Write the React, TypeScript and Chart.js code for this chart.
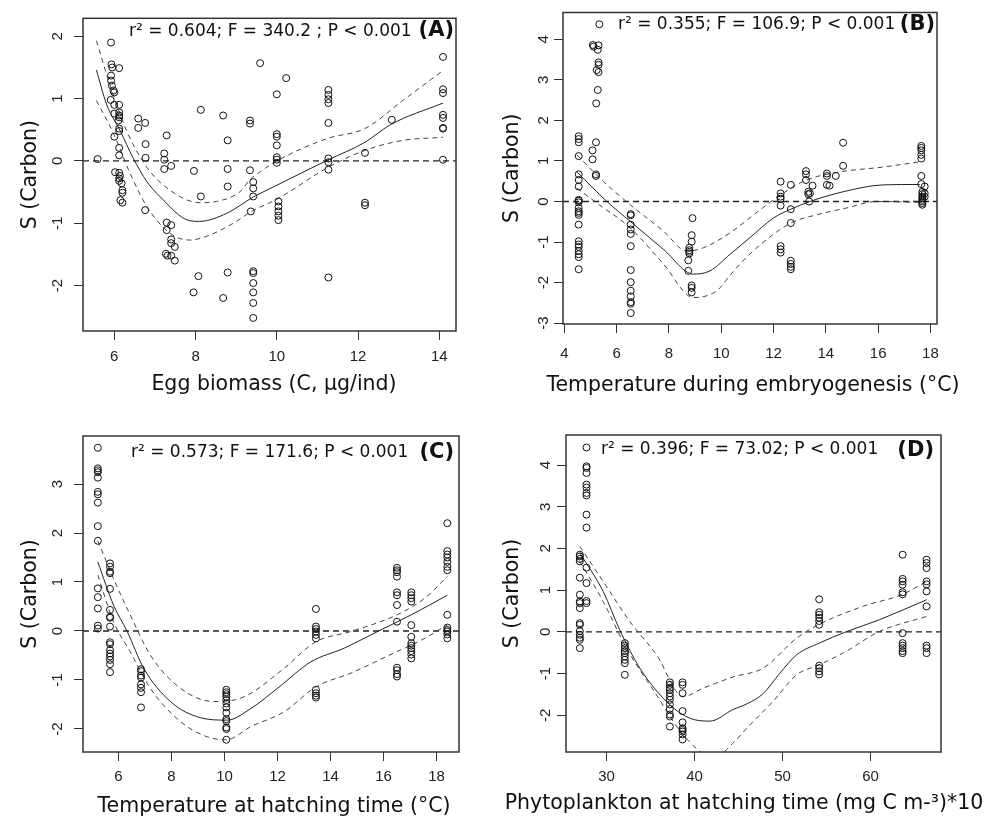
import React, { useEffect, useRef } from "react";
import { Chart, registerables } from "chart.js";
Chart.register(...registerables);

type P = [number, number];

// ---------------- Panel A ----------------
const aPoints: P[] = [
  [5.59, 0.03], [5.92, 1.9], [5.93, 1.55], [5.95, 1.5], [6.12, 1.49], [5.92, 1.37], [5.92, 1.29], [5.94, 1.21],
  [5.98, 1.13], [6.0, 1.1], [5.91, 0.98], [6.0, 0.9], [6.12, 0.9], [6.0, 0.76], [6.12, 0.78], [6.12, 0.73],
  [6.12, 0.7], [6.1, 0.65], [6.12, 0.52], [6.12, 0.48], [6.0, 0.39], [6.12, 0.21], [6.12, 0.09], [6.02, -0.18],
  [6.12, -0.19], [6.14, -0.24], [6.12, -0.28], [6.12, -0.32], [6.18, -0.36], [6.2, -0.47], [6.2, -0.51], [6.15, -0.63],
  [6.2, -0.67], [6.59, 0.68], [6.59, 0.53], [6.76, 0.61], [6.77, 0.27], [6.77, 0.05], [6.76, -0.79], [7.23, 0.12],
  [7.23, 0.02], [7.23, -0.13], [7.4, -0.08], [7.29, 0.41], [7.29, -0.99], [7.4, -1.03], [7.29, -1.11], [7.4, -1.26],
  [7.4, -1.32], [7.49, -1.38], [7.27, -1.49], [7.31, -1.52], [7.4, -1.52], [7.49, -1.6], [7.96, -0.16], [8.13, 0.82],
  [8.13, -0.57], [8.07, -1.85], [7.95, -2.11], [8.68, 0.73], [8.79, 0.33], [8.79, -0.13], [8.79, -0.41], [8.79, -1.79],
  [8.68, -2.2], [9.34, 0.65], [9.34, 0.6], [9.34, -0.15], [9.42, -0.34], [9.42, -0.44], [9.42, -0.57], [9.36, -0.81],
  [9.42, -1.77], [9.42, -1.8], [9.42, -1.96], [9.42, -2.11], [9.42, -2.28], [9.42, -2.52], [9.59, 1.57], [10.23, 1.33],
  [10.0, 1.07], [10.0, 0.43], [10.0, 0.39], [10.0, 0.25], [10.0, 0.06], [10.0, 0.02], [10.0, -0.03], [10.04, -0.65],
  [10.04, -0.73], [10.04, -0.81], [10.04, -0.88], [10.04, -0.95], [11.27, 1.14], [11.27, 1.06], [11.27, 0.99], [11.27, 0.93],
  [11.27, 0.61], [11.27, 0.04], [11.27, -0.02], [11.27, -0.14], [11.27, -1.87], [12.17, 0.13], [12.17, -0.67], [12.17, -0.71],
  [12.83, 0.66], [14.09, 1.67], [14.09, 1.15], [14.09, 1.09], [14.09, 0.74], [14.09, 0.69], [14.09, 0.53], [14.09, 0.52],
  [14.09, 0.02],
];
const aFit: P[] = [
  [5.56, 1.46], [5.81, 0.91], [6.14, 0.49], [6.47, 0.04], [6.8, -0.33], [7.12, -0.57], [7.86, -0.96], [8.1, -0.97],
  [8.77, -0.84], [9.42, -0.58], [10.0, -0.39], [11.24, 0.01], [12.17, 0.3], [12.79, 0.58], [14.09, 0.93],
];
const aUpper: P[] = [
  [5.56, 1.93], [5.89, 1.23], [6.3, 0.49], [6.8, -0.1], [7.37, -0.47], [8.11, -0.67], [8.52, -0.65], [9.1, -0.49],
  [9.34, -0.3], [9.6, -0.17], [10.0, 0.0], [11.24, 0.36], [12.17, 0.52], [13.1, 0.97], [14.09, 1.45],
];
const aLower: P[] = [
  [5.56, 0.97], [5.98, 0.44], [6.39, -0.2], [6.8, -0.73], [7.37, -1.16], [7.86, -1.27], [8.27, -1.21], [8.93, -1.0],
  [9.38, -0.81], [10.04, -0.6], [11.27, -0.1], [12.17, 0.17], [13.1, 0.33], [14.09, 0.38],
];
const aXTicks = [6, 8, 10, 12, 14];
const aYTicks = [-2, -1, 0, 1, 2];
const aXRange = [5.23, 14.41];
const aYRange = [-2.73, 2.29];

// ---------------- Panel B ----------------
const bPoints: P[] = [
  [4.55, 1.61], [4.55, 1.54], [4.55, 1.46], [4.55, 1.12], [4.55, 0.67], [4.55, 0.53], [4.55, 0.37], [4.55, 0.04],
  [4.55, 0.02], [4.55, -0.02], [4.55, -0.16], [4.55, -0.24], [4.55, -0.28], [4.55, -0.33], [4.55, -0.57], [4.55, -0.98],
  [4.55, -1.06], [4.55, -1.12], [4.55, -1.22], [4.55, -1.3], [4.55, -1.37], [4.55, -1.67],
  [5.34, 4.37], [5.09, 3.86], [5.12, 3.82], [5.31, 3.85], [5.28, 3.74], [5.31, 3.43], [5.31, 3.37], [5.24, 3.24],
  [5.31, 3.19], [5.28, 2.75], [5.22, 2.42], [5.21, 1.46], [5.08, 1.26], [5.08, 1.04], [5.21, 0.67], [5.21, 0.63],
  [6.54, -0.31], [6.54, -0.34], [6.54, -0.57], [6.54, -0.69], [6.54, -0.8], [6.54, -1.1], [6.54, -1.69], [6.54, -1.99],
  [6.54, -2.2], [6.54, -2.34], [6.54, -2.48], [6.54, -2.52], [6.54, -2.75],
  [8.9, -0.41], [8.87, -0.83], [8.87, -0.99], [8.78, -1.14], [8.78, -1.2], [8.78, -1.24], [8.78, -1.28], [8.74, -1.45],
  [8.74, -1.71], [8.87, -2.07], [8.87, -2.13], [8.87, -2.24],
  [12.27, 0.49], [12.27, 0.2], [12.27, 0.12], [12.27, 0.07], [12.27, -0.1], [12.27, -1.1], [12.27, -1.18], [12.27, -1.26],
  [12.66, 0.41], [12.66, -0.19], [12.66, -0.53], [12.66, -1.46], [12.66, -1.54], [12.66, -1.61], [12.66, -1.67],
  [13.24, 0.75], [13.24, 0.67], [13.24, 0.53], [13.49, 0.39], [13.33, 0.24], [13.39, 0.2], [13.33, 0.18], [13.36, 0.0],
  [14.04, 0.69], [14.04, 0.63], [14.04, 0.41], [14.14, 0.39], [14.38, 0.63], [14.66, 1.45], [14.66, 0.88],
  [17.65, 1.37], [17.65, 1.32], [17.65, 1.26], [17.65, 1.15], [17.65, 1.06], [17.65, 0.63], [17.65, 0.43], [17.78, 0.37],
  [17.69, 0.24], [17.69, 0.18], [17.69, 0.12], [17.69, 0.08], [17.69, 0.04], [17.69, 0.0], [17.69, -0.04], [17.69, -0.08],
  [17.78, 0.2], [17.78, 0.12],
];
const bFit: P[] = [
  [4.48, 0.73], [5.63, 0.0], [6.52, -0.49], [7.79, -1.18], [8.94, -1.79], [9.57, -1.71], [10.34, -1.3], [11.1, -0.89],
  [11.99, -0.41], [12.66, -0.19], [13.39, 0.0], [14.66, 0.24], [16.19, 0.41], [17.59, 0.42],
];
const bUpper: P[] = [
  [4.48, 1.15], [5.5, 0.49], [6.52, -0.08], [7.79, -0.73], [8.68, -1.22], [9.32, -1.14], [10.34, -0.77], [11.3, -0.3],
  [12.26, 0.16], [13.26, 0.53], [14.54, 0.73], [16.19, 0.85], [17.59, 0.98],
];
const bLower: P[] = [
  [4.48, 0.33], [5.25, -0.04], [6.52, -0.65], [7.79, -1.54], [8.94, -2.37], [9.83, -2.2], [10.34, -1.82], [10.72, -1.54],
  [11.36, -1.14], [12.66, -0.53], [13.64, -0.33], [14.79, -0.16], [15.93, 0.0], [17.59, -0.02],
];
const bXTicks = [4, 6, 8, 10, 12, 14, 16, 18];
const bYTicks = [-3, -2, -1, 0, 1, 2, 3, 4];
const bXRange = [3.95, 18.25];
const bYRange = [-3.02, 4.66];

// ---------------- Panel C ----------------
const cPoints: P[] = [
  [5.22, 3.74], [5.22, 3.32], [5.22, 3.28], [5.22, 3.24], [5.22, 3.13], [5.22, 2.84], [5.22, 2.79], [5.22, 2.62],
  [5.22, 2.14], [5.22, 1.84], [5.22, 0.87], [5.22, 0.69], [5.22, 0.46], [5.22, 0.11], [5.22, 0.05],
  [5.68, 1.38], [5.68, 1.31], [5.68, 1.21], [5.68, 1.18], [5.68, 0.86], [5.68, 0.43], [5.68, 0.29], [5.68, 0.27],
  [5.68, 0.09], [5.68, -0.23], [5.68, -0.27], [5.68, -0.39], [5.68, -0.46], [5.68, -0.52], [5.68, -0.59], [5.68, -0.68],
  [5.68, -0.84],
  [6.85, -0.78], [6.85, -0.82], [6.85, -0.91], [6.85, -0.95], [6.85, -1.09], [6.85, -1.16], [6.85, -1.25], [6.85, -1.56],
  [10.07, -1.2], [10.07, -1.25], [10.07, -1.29], [10.07, -1.34], [10.07, -1.41], [10.07, -1.48], [10.07, -1.56],
  [10.07, -1.67], [10.07, -1.8], [10.07, -1.84], [10.07, -1.97], [10.07, -2.0], [10.07, -2.22],
  [13.45, 0.45], [13.45, 0.09], [13.45, 0.04], [13.45, -0.01], [13.45, -0.08], [13.45, -0.15], [13.45, -1.2],
  [13.45, -1.27], [13.45, -1.32], [13.45, -1.36],
  [16.51, 1.29], [16.51, 1.24], [16.51, 1.2], [16.51, 1.11], [16.51, 0.79], [16.51, 0.73], [16.51, 0.53], [16.51, 0.19],
  [16.51, -0.75], [16.51, -0.8], [16.51, -0.88], [16.51, -0.93],
  [17.05, 0.79], [17.05, 0.73], [17.05, 0.67], [17.05, 0.6], [17.05, 0.12], [17.05, -0.12], [17.05, -0.25], [17.05, -0.3],
  [17.05, -0.35], [17.05, -0.41], [17.05, -0.48], [17.05, -0.56],
  [18.41, 2.2], [18.41, 1.63], [18.41, 1.56], [18.41, 1.5], [18.41, 1.41], [18.41, 1.31], [18.41, 1.24], [18.41, 0.33],
  [18.41, 0.07], [18.41, 0.02], [18.41, -0.01], [18.41, -0.07], [18.41, -0.15],
];
const cFit: P[] = [
  [5.22, 1.41], [5.81, 0.53], [6.32, 0.0], [6.95, -0.76], [7.96, -1.44], [9.09, -1.77], [10.1, -1.82], [11.0, -1.58],
  [12.0, -1.17], [13.26, -0.63], [14.52, -0.35], [15.78, -0.01], [17.05, 0.33], [18.41, 0.73],
];
const cUpper: P[] = [
  [5.22, 1.84], [5.81, 1.07], [6.44, 0.33], [7.2, -0.49], [8.34, -1.17], [9.6, -1.44], [10.36, -1.41], [11.0, -1.27],
  [12.25, -0.76], [13.45, -0.22], [14.77, -0.01], [16.51, 0.33], [17.56, 0.67], [18.41, 1.11],
];
const cLower: P[] = [
  [5.22, 1.14], [5.81, 0.19], [6.44, -0.42], [7.2, -1.17], [8.34, -1.85], [9.35, -2.16], [10.07, -2.22], [11.0, -1.95],
  [12.25, -1.65], [13.45, -1.14], [14.77, -0.86], [16.51, -0.42], [17.31, -0.22], [18.41, 0.12],
];
const cXTicks = [6, 8, 10, 12, 14, 16, 18];
const cYTicks = [-2, -1, 0, 1, 2, 3];
const cXRange = [4.66, 18.85];
const cYRange = [-2.47, 3.98];

// ---------------- Panel D ----------------
const dPoints: P[] = [
  [26.97, 1.85], [26.97, 1.81], [26.97, 1.75], [26.97, 1.69], [26.97, 1.3], [26.97, 0.89], [26.97, 0.73], [26.97, 0.69],
  [26.97, 0.57], [26.97, 0.21], [26.97, 0.17], [26.97, 0.02], [26.97, -0.07], [26.97, -0.14], [26.97, -0.19], [26.97, -0.39],
  [27.73, 4.42], [27.73, 3.97], [27.73, 3.93], [27.73, 3.81], [27.73, 3.53], [27.73, 3.46], [27.73, 3.33], [27.73, 3.27],
  [27.73, 2.81], [27.73, 2.5], [27.73, 1.54], [27.73, 1.17], [27.73, 0.74], [27.73, 0.69],
  [32.08, -0.27], [32.08, -0.33], [32.08, -0.39], [32.08, -0.46], [32.08, -0.51], [32.08, -0.59], [32.08, -0.67],
  [32.08, -0.75], [32.08, -1.03],
  [37.2, -1.21], [37.2, -1.27], [37.2, -1.34], [37.2, -1.39], [37.2, -1.47], [37.2, -1.55], [37.2, -1.63], [37.2, -1.74],
  [37.2, -1.85], [37.2, -1.98], [37.2, -2.03], [37.2, -2.27],
  [38.64, -1.21], [38.64, -1.27], [38.64, -1.47], [38.64, -1.9], [38.64, -2.17], [38.64, -2.31], [38.64, -2.35],
  [38.64, -2.39], [38.64, -2.46], [38.64, -2.58],
  [54.16, 0.78], [54.16, 0.47], [54.16, 0.41], [54.16, 0.34], [54.16, 0.26], [54.16, 0.17], [54.16, -0.81], [54.16, -0.87],
  [54.16, -0.95], [54.16, -1.02],
  [63.64, 1.85], [63.64, 1.27], [63.64, 1.21], [63.64, 1.13], [63.64, 0.95], [63.64, 0.9], [63.64, -0.03], [63.64, -0.27],
  [63.64, -0.33], [63.64, -0.39], [63.64, -0.46], [63.64, -0.51],
  [66.36, 1.73], [66.36, 1.65], [66.36, 1.53], [66.36, 1.21], [66.36, 1.14], [66.36, 0.97], [66.36, 0.61], [66.36, -0.33],
  [66.36, -0.39], [66.36, -0.51],
];
const dFit: P[] = [
  [26.97, 1.89], [29.62, 0.97], [31.5, 0.05], [33.79, -0.87], [37.2, -1.75], [39.47, -2.07], [41.74, -2.14], [44.4, -1.86],
  [46.0, -1.72], [47.8, -1.48], [49.7, -0.99], [51.6, -0.55], [54.16, -0.27], [57.2, 0.0], [61.0, 0.29], [66.36, 0.77],
];
const dUpper: P[] = [
  [26.97, 2.05], [29.62, 1.21], [32.65, 0.25], [35.68, -0.55], [38.71, -1.55], [40.98, -1.35], [44.4, -1.08], [47.8, -0.87],
  [51.6, -0.15], [54.16, 0.18], [59.1, 0.61], [63.64, 0.9], [66.36, 1.21],
];
const dLower: P[] = [
  [26.97, 1.69], [29.62, 0.73], [32.27, -0.39], [35.68, -1.51], [38.71, -2.47], [41.74, -2.95], [43.0, -2.92], [44.3, -2.68],
  [46.3, -2.23], [48.9, -1.67], [51.6, -1.03], [54.16, -0.79], [57.2, -0.47], [61.0, 0.01], [66.36, 0.37],
];
const dXTicks = [30, 40, 50, 60];
const dYTicks = [-2, -1, 0, 1, 2, 3, 4];
const dXRange = [25.4, 68.0];
const dYRange = [-2.88, 4.72];

const yTitle = "S (Carbon)";

type Cfg = {
  left: number; top: number; w: number; h: number;
  area: { l: number; t: number; r: number; b: number };
  points: P[]; fit: P[]; upper: P[]; lower: P[];
  xTicks: number[]; yTicks: number[]; xRange: number[]; yRange: number[];
  xTitle: string; stats: string; tag: string;
  yTickPad: number; yTitlePad: number; xTickPad: number;
  xTitleX: number; xTitleY: number;
  statsX: number; statsY: number; tagX: number; tagY: number;
};

const panels: Cfg[] = [
  {
    left: 0, top: 0, w: 500, h: 411, area: { l: 83, t: 16, r: 456, b: 331 },
    points: aPoints, fit: aFit, upper: aUpper, lower: aLower,
    xTicks: aXTicks, yTicks: aYTicks, xRange: aXRange, yRange: aYRange,
    xTitle: "Egg biomass (C, µg/ind)", stats: "r² = 0.604; F = 340.2 ; P < 0.001", tag: "(A)",
    yTickPad: 9.3, yTitlePad: 18, xTickPad: 7.7, xTitleX: 274, xTitleY: 384.5,
    statsX: 129, statsY: 32, tagX: 454, tagY: 31,
  },
  {
    left: 500, top: 0, w: 503, h: 411, area: { l: 63, t: 9, r: 437, b: 324 },
    points: bPoints, fit: bFit, upper: bUpper, lower: bLower,
    xTicks: bXTicks, yTicks: bYTicks, xRange: bXRange, yRange: bYRange,
    xTitle: "Temperature during embryogenesis (°C)", stats: "r² = 0.355; F = 106.9; P < 0.001", tag: "(B)",
    yTickPad: 3.5, yTitlePad: 0, xTickPad: 12.3, xTitleX: 253, xTitleY: 385.3,
    statsX: 118, statsY: 25, tagX: 435, tagY: 25,
  },
  {
    left: 0, top: 411, w: 500, h: 411, area: { l: 83, t: 25, r: 459, b: 341 },
    points: cPoints, fit: cFit, upper: cUpper, lower: cLower,
    xTicks: cXTicks, yTicks: cYTicks, xRange: cXRange, yRange: cYRange,
    xTitle: "Temperature at hatching time (°C)", stats: "r² = 0.573; F = 171.6; P < 0.001", tag: "(C)",
    yTickPad: 9.3, yTitlePad: 18, xTickPad: 7, xTitleX: 274, xTitleY: 395.3,
    statsX: 131, statsY: 42, tagX: 454, tagY: 42,
  },
  {
    left: 500, top: 411, w: 503, h: 411, area: { l: 66, t: 24, r: 441, b: 341 },
    points: dPoints, fit: dFit, upper: dUpper, lower: dLower,
    xTicks: dXTicks, yTicks: dYTicks, xRange: dXRange, yRange: dYRange,
    xTitle: "Phytoplankton at hatching time (mg C m-³)*10", stats: "r² = 0.396; F = 73.02; P < 0.001", tag: "(D)",
    yTickPad: 4.6, yTitlePad: 0, xTickPad: 6.5, xTitleX: 244, xTitleY: 392.3,
    statsX: 101, statsY: 39, tagX: 434, tagY: 40,
  },
];

const toXY = (arr: P[]) => arr.map(([x, y]) => ({ x, y }));

function Panel({ cfg }: { cfg: Cfg }) {
  const ref = useRef<HTMLCanvasElement>(null);
  useEffect(() => {
    const canvas = ref.current!;
    const lineBase = { showLine: true, pointRadius: 0, fill: false, cubicInterpolationMode: "monotone" as const };
    const grid = { display: true, drawOnChartArea: false, drawTicks: true, tickLength: 9, color: "#333", lineWidth: 1 };
    const tickFont = { family: "'Liberation Sans', Arial, sans-serif", size: 15 };
    const titleFont = { family: "'DejaVu Sans', Verdana, sans-serif", size: 20.5 };
    const chart = new Chart(canvas, {
      type: "scatter",
      data: {
        datasets: [
          {
            data: toXY(cfg.points), pointRadius: 3.5, pointBorderWidth: 1, borderColor: "#111",
            backgroundColor: "rgba(0,0,0,0)", pointStyle: "circle", showLine: false,
          } as any,
          { ...lineBase, data: toXY(cfg.fit), borderColor: "#222", borderWidth: 1 } as any,
          { ...lineBase, data: toXY(cfg.upper), borderColor: "#444", borderWidth: 1, borderDash: [5, 4] } as any,
          { ...lineBase, data: toXY(cfg.lower), borderColor: "#444", borderWidth: 1, borderDash: [5, 4] } as any,
          {
            showLine: true, pointRadius: 0, fill: false,
            data: [{ x: cfg.xRange[0], y: 0 }, { x: cfg.xRange[1], y: 0 }],
            borderColor: "#222", borderWidth: 1.3, borderDash: [6, 4],
          } as any,
        ],
      },
      options: {
        animation: false,
        responsive: false,
        devicePixelRatio: 1,
        events: [],
        layout: { padding: { left: 0, top: cfg.area.t, right: cfg.w - cfg.area.r, bottom: 0 } },
        plugins: { legend: { display: false }, tooltip: { enabled: false }, title: { display: false } },
        scales: {
          x: {
            type: "linear", min: cfg.xRange[0], max: cfg.xRange[1],
            afterBuildTicks: (s: any) => { s.ticks = cfg.xTicks.map((v) => ({ value: v })); },
            afterFit: (s: any) => { s.height = cfg.h - cfg.area.b; },
            grid, border: { display: false },
            ticks: { font: tickFont, color: "#222", padding: cfg.xTickPad, maxRotation: 0, autoSkip: false, callback: (v: any) => String(v) },
            title: { display: false },
          },
          y: {
            type: "linear", min: cfg.yRange[0], max: cfg.yRange[1],
            afterBuildTicks: (s: any) => { s.ticks = cfg.yTicks.map((v) => ({ value: v })); },
            afterFit: (s: any) => { s.width = cfg.area.l; },
            grid, border: { display: false },
            ticks: {
              font: tickFont, color: "#222", padding: cfg.yTickPad, minRotation: 90, maxRotation: 90,
              crossAlign: "center", autoSkip: false, callback: (v: any) => String(v),
            },
            title: { display: true, text: yTitle, font: titleFont, color: "#111", padding: { top: cfg.yTitlePad, bottom: 0 } },
          },
        } as any,
      },
      plugins: [
        {
          id: "decor",
          afterDraw(ch: any) {
            const { ctx, chartArea: a } = ch;
            ctx.save();
            ctx.strokeStyle = "#333";
            ctx.lineWidth = 1.5;
            ctx.strokeRect(a.left, a.top, a.right - a.left, a.bottom - a.top);
            ctx.fillStyle = "#111";
            ctx.textBaseline = "middle";
            ctx.textAlign = "center";
            ctx.font = "20.5px 'DejaVu Sans'";
            ctx.fillText(cfg.xTitle, cfg.xTitleX, cfg.xTitleY);
            ctx.textAlign = "left";
            ctx.font = "17px 'DejaVu Sans'";
            ctx.fillText(cfg.stats, cfg.statsX, cfg.statsY);
            ctx.textAlign = "right";
            ctx.font = "bold 21px 'DejaVu Sans'";
            ctx.fillText(cfg.tag, cfg.tagX, cfg.tagY);
            ctx.restore();
          },
        },
      ],
    });
    return () => chart.destroy();
  }, [cfg]);
  return (
    <canvas
      ref={ref}
      width={cfg.w}
      height={cfg.h}
      style={{ position: "absolute", left: cfg.left, top: cfg.top, width: cfg.w, height: cfg.h }}
    />
  );
}

export default function App() {
  return (
    <div style={{ position: "absolute", left: 0, top: 0, width: 1003, height: 822, background: "#fff" }}>
      {panels.map((p, i) => (
        <Panel key={i} cfg={p} />
      ))}
    </div>
  );
}
